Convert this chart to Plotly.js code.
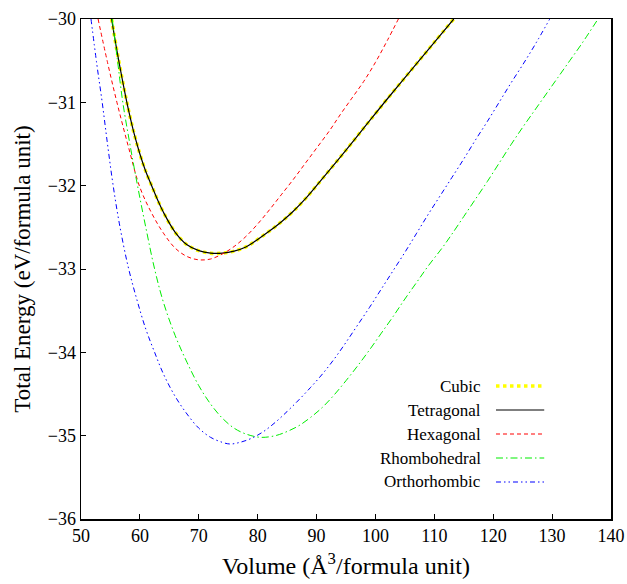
<!DOCTYPE html>
<html>
<head>
<meta charset="utf-8">
<script src="https://cdn.plot.ly/plotly-3.0.1.min.js"></script>
<style>html,body{margin:0;padding:0;background:#fff;}#chart{width:627px;height:584px;}</style>
</head>
<body>
<div id="chart"></div>
<script>
// Series names
const seriesNames = ["Cubic", "Tetragonal", "Hexagonal", "Rhombohedral", "Orthorhombic"];

// Cubic (coincides with Tetragonal)
const cubicV = [55.2, 56, 57, 58, 59, 60, 61, 62, 63, 64, 66, 68, 70, 72, 74, 76, 78, 80, 82, 84, 86, 88, 90, 94, 98, 102, 106, 110, 113.3];
const cubicE = [-30.0, -30.34, -30.72, -31.07, -31.37, -31.62, -31.83, -32.0, -32.17, -32.32, -32.56, -32.71, -32.78, -32.81, -32.81, -32.785, -32.735, -32.645, -32.545, -32.435, -32.31, -32.165, -32.0, -31.66, -31.31, -30.96, -30.62, -30.28, -30.0];

// Tetragonal
const tetragonalV = [55.2, 56, 57, 58, 59, 60, 61, 62, 63, 64, 66, 68, 70, 72, 74, 76, 78, 80, 82, 84, 86, 88, 90, 94, 98, 102, 106, 110, 113.3];
const tetragonalE = [-30.0, -30.34, -30.72, -31.07, -31.37, -31.62, -31.83, -32.0, -32.17, -32.32, -32.56, -32.71, -32.78, -32.81, -32.81, -32.785, -32.735, -32.645, -32.545, -32.435, -32.31, -32.165, -32.0, -31.66, -31.31, -30.96, -30.62, -30.28, -30.0];

// Hexagonal
const hexagonalV = [52.9, 54.5, 56.1, 58, 60, 62, 64, 66, 68, 70, 72, 74, 76, 78, 80, 82, 84, 86, 88, 90, 92.3, 94, 96, 98, 100, 102, 103.9];
const hexagonalE = [-30.0, -30.52, -31.0, -31.52, -32.02, -32.33, -32.57, -32.75, -32.85, -32.89, -32.88, -32.82, -32.73, -32.61, -32.46, -32.29, -32.11, -31.93, -31.74, -31.55, -31.33, -31.15, -30.95, -30.75, -30.52, -30.26, -30.0];

// Rhombohedral
const rhombohedralV = [55.3, 56.2, 57.1, 58.3, 59.6, 61, 62.5, 64, 66, 68, 70, 72, 74, 76, 78, 80.5, 83, 85, 87, 89, 91, 93, 95, 97, 99, 101, 103, 105, 107, 109, 111.3, 113, 115, 117, 119, 121, 123, 125, 127, 129, 131, 133, 135, 137.8];
const rhombohedralE = [-30.0, -30.5, -31.0, -31.5, -32.0, -32.5, -33.0, -33.4, -33.8, -34.12, -34.4, -34.62, -34.79, -34.91, -34.98, -35.02, -35.0, -34.95, -34.88, -34.78, -34.66, -34.51, -34.34, -34.16, -33.97, -33.77, -33.57, -33.36, -33.16, -32.96, -32.75, -32.58, -32.37, -32.16, -31.95, -31.73, -31.51, -31.30, -31.10, -30.90, -30.70, -30.50, -30.30, -30.0];

// Orthorhombic
const orthorhombicV = [51.7, 52.7, 53.6, 54.5, 55.4, 56.5, 58, 59.5, 61, 62.5, 64, 66, 68, 70, 72, 74, 75.3, 77, 79, 81, 83, 85, 87, 89, 91, 93, 95, 97, 99, 101, 103, 105, 107, 109, 111, 113, 115, 117, 119, 121, 123, 125, 127, 129.6];
const orthorhombicE = [-30.0, -30.55, -31.0, -31.5, -31.97, -32.45, -32.97, -33.37, -33.72, -34.0, -34.26, -34.53, -34.74, -34.91, -35.02, -35.08, -35.10, -35.08, -35.03, -34.95, -34.84, -34.71, -34.57, -34.42, -34.26, -34.08, -33.88, -33.67, -33.46, -33.24, -33.02, -32.80, -32.57, -32.34, -32.12, -31.90, -31.68, -31.45, -31.23, -31.0, -30.77, -30.55, -30.32, -30.0];

// Axis ticks
const xTicks = [50, 60, 70, 80, 90, 100, 110, 120, 130, 140];
const yTicks = [-36, -35, -34, -33, -32, -31, -30];

const styles = [
  {color: "#ffff00", width: 3.5, dash: "dot"},
  {color: "#000000", width: 1.2, dash: "solid"},
  {color: "#ff0000", width: 1, dash: "4px,3px"},
  {color: "#00ee00", width: 1, dash: "7px,3px,1.5px,3px"},
  {color: "#0000ff", width: 1, dash: "5px,3px,1.5px,3px,1.5px,3px"}
];

const xs = [cubicV, tetragonalV, hexagonalV, rhombohedralV, orthorhombicV];
const ys = [cubicE, tetragonalE, hexagonalE, rhombohedralE, orthorhombicE];

const FONT = "Liberation Serif, Times New Roman, serif";

const traces = seriesNames.map((n, i) => ({
  type: "scatter", mode: "lines", name: n,
  x: xs[i], y: ys[i],
  line: {color: styles[i].color, width: styles[i].width, dash: styles[i].dash, shape: "spline", smoothing: 1},
  showlegend: false, hoverinfo: "skip"
}));

// Custom gnuplot-style legend: text on the left, line sample on the right
const legTop = 0.266, legStep = 0.048;
const annotations = [];
const shapes = [];
seriesNames.forEach((n, i) => {
  const yy = legTop - i * legStep;
  annotations.push({
    xref: "paper", yref: "paper", x: 0.7585, y: yy, text: n,
    showarrow: false, xanchor: "right", yanchor: "middle",
    font: {family: FONT, size: 17, color: "#000"}
  });
  shapes.push({
    type: "line", xref: "paper", yref: "paper",
    x0: 0.783, x1: 0.874, y0: yy, y1: yy,
    line: {color: styles[i].color, width: i === 0 ? 3.5 : 1.2, dash: styles[i].dash}
  });
});

const axisCommon = {
  showgrid: false, zeroline: false,
  showline: true, mirror: true, linecolor: "#000", linewidth: 1.5,
  ticks: "inside", ticklen: 5, tickwidth: 1, tickcolor: "#000",
  tickfont: {family: FONT, size: 18, color: "#000"}
};

const layout = {
  width: 627, height: 584,
  margin: {l: 81, r: 16, t: 19, b: 65},
  paper_bgcolor: "#fff", plot_bgcolor: "#fff",
  font: {family: FONT, color: "#000"},
  xaxis: Object.assign({}, axisCommon, {
    range: [50, 140], tickvals: xTicks, ticktext: xTicks.map(String),
    title: {text: "Volume (Å<sup>3</sup>/formula unit)", font: {family: FONT, size: 24, color: "#000"}, standoff: 12}
  }),
  yaxis: Object.assign({}, axisCommon, {
    range: [-36, -30], tickvals: yTicks,
    title: {text: "Total Energy (eV/formula unit)", font: {family: FONT, size: 23, color: "#000"}, standoff: 10}
  }),
  annotations: annotations,
  shapes: shapes,
  showlegend: false
};

Plotly.newPlot("chart", traces, layout, {displayModeBar: false, staticPlot: true});
</script>
</body>
</html>
